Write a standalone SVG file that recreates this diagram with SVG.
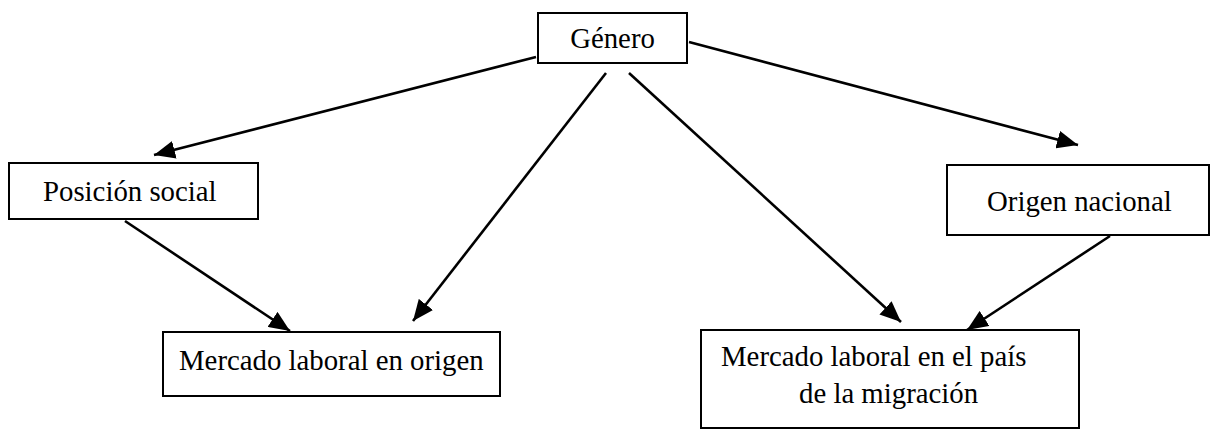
<svg xmlns="http://www.w3.org/2000/svg" width="1211" height="430" viewBox="0 0 1211 430">
<style>
.box{fill:#fff;stroke:#000;stroke-width:2}
.t{font-family:"Liberation Serif","Times New Roman",serif;font-size:28.8px;fill:#000}
.c{stroke:#000;stroke-width:2.6;fill:none;marker-end:url(#ah)}
</style>
<defs>
<marker id="ah" markerUnits="userSpaceOnUse" markerWidth="22" markerHeight="18" refX="21" refY="9" orient="auto">
<path d="M0,0 L21,9 L0,18 z" fill="#000"/>
</marker>
</defs>
<rect width="1211" height="430" fill="#fff"/>
<g id="connectors">
<line class="c" x1="536" y1="57" x2="154" y2="155"/>
<line class="c" x1="689" y1="42" x2="1078" y2="145"/>
<line class="c" x1="606" y1="73" x2="413" y2="321"/>
<line class="c" x1="629" y1="73" x2="901" y2="322"/>
<line class="c" x1="125" y1="221" x2="290" y2="331"/>
<line class="c" x1="1110" y1="236" x2="967" y2="330"/>
</g>
<g id="genero">
<rect class="box" x="538" y="13" width="149" height="50"/>
<text class="t" x="612.5" y="48" text-anchor="middle">Género</text>
</g>
<g id="posicion-social">
<rect class="box" x="9" y="163" width="249" height="56"/>
<text class="t" x="43" y="201">Posición social</text>
</g>
<g id="origen-nacional">
<rect class="box" x="947" y="165" width="262" height="70"/>
<text class="t" x="987" y="211">Origen nacional</text>
</g>
<g id="mercado-origen">
<rect class="box" x="163" y="332" width="337" height="64"/>
<text class="t" x="179" y="370">Mercado laboral en origen</text>
</g>
<g id="mercado-pais">
<rect class="box" x="701" y="330" width="378" height="98"/>
<text class="t" x="721" y="366">Mercado laboral en el país</text>
<text class="t" x="799" y="403">de la migración</text>
</g>
</svg>
